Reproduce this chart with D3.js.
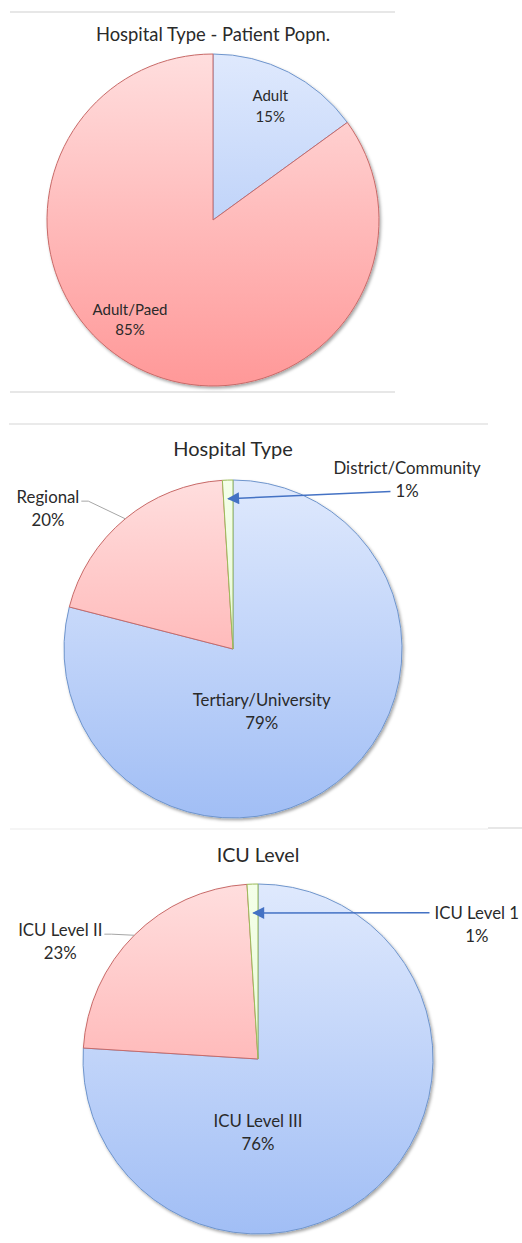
<!DOCTYPE html>
<html>
<head>
<meta charset="utf-8">
<script src="https://cdn.jsdelivr.net/npm/d3@7"></script>
<style>
  body { margin: 0; background: #fff; }
  svg text { font-family: Lato, "Open Sans", sans-serif; fill: #2a2a2a; }
</style>
</head>
<body>
<svg id="chart" width="522" height="1243"></svg>
<script>
// --- data ---
const popnLabels  = ['Adult', 'Adult/Paed']
const popnValues  = [15, 85]
const typeLabels  = ['Tertiary/University', 'Regional', 'District/Community']
const typeValues  = [79, 20, 1]
const icuLabels   = ['ICU Level III', 'ICU Level II', 'ICU Level 1']
const icuValues   = [76, 23, 1]
const titles      = ['Hospital Type - Patient Popn.', 'Hospital Type', 'ICU Level']

// slice styles (blue, red, green) as in the original
const fills = [
  {top: '#dfe9fd', bottom: '#a1bef5', stroke: '#6f95cc'},
  {top: '#ffdede', bottom: '#ff9898', stroke: '#c86a68'},
  {top: '#f4ffe9', bottom: '#e0f5c8', stroke: '#9bbb59'}
]

// layout of each chart block: pie centre, radius, title, label placement
const charts = [
  {labels: popnLabels, values: popnValues, title: titles[0],
   cx: 213, cy: 220, r: 166, titleY: 41, titleSize: 18.4, labelSize: 15,
   rules: [{y: 12, x0: 10, x1: 395, c: '#cfcfcf'}, {y: 392, x0: 10, x1: 395, c: '#cfcfcf'}],
   // label offsets from pie centre, in radius units
   place: [{kind: 'in', dx: 0.345, dy: -0.685}, {kind: 'in', dx: -0.5, dy: 0.6}]},
  {labels: typeLabels, values: typeValues, title: titles[1],
   cx: 233, cy: 649, r: 169, titleY: 456, titleSize: 20, labelSize: 16.8,
   rules: [{y: 424, x0: 9, x1: 488, c: '#d6d6d6'}],
   place: [{kind: 'in', dx: 0.17, dy: 0.37},
           {kind: 'lead', dx: -1.095, dy: -0.83},
           {kind: 'arrow', dx: 1.03, dy: -1.0, from: 1, tip: 0.89}]},
  {labels: icuLabels, values: icuValues, title: titles[2],
   cx: 258, cy: 1059, r: 175, titleY: 862, titleSize: 19.7, labelSize: 16.8,
   rules: [{y: 829, x0: 10, x1: 488, c: '#ececec'}, {y: 828, x0: 488, x1: 522, c: '#d0d0d0'}],
   place: [{kind: 'in', dx: 0, dy: 0.42},
           {kind: 'lead', dx: -1.13, dy: -0.67},
           {kind: 'arrow', dx: 1.25, dy: -0.77, from: 0, tip: 0.835}]}
]

const svg  = d3.select('#chart')
const defs = svg.append('defs')

defs.append('filter').attr('id', 'shadow')
    .attr('x', '-10%').attr('y', '-10%').attr('width', '120%').attr('height', '120%')
  .append('feDropShadow')
    .attr('dx', 1.5).attr('dy', 2).attr('stdDeviation', 1.5)
    .attr('flood-color', '#000').attr('flood-opacity', 0.35)

defs.append('marker').attr('id', 'arrowhead')
    .attr('viewBox', '0 0 10 10').attr('refX', 9).attr('refY', 5)
    .attr('markerWidth', 9.5).attr('markerHeight', 8).attr('orient', 'auto')
    .attr('markerUnits', 'strokeWidth')
  .append('path').attr('d', 'M0,0 L10,5 L0,10 Z').attr('fill', '#4472c4')

const pie = d3.pie().sort(null).value(d => d)

charts.forEach((c, ci) => {
  c.rules.forEach(r => svg.append('line')
    .attr('x1', r.x0).attr('x2', r.x1).attr('y1', r.y).attr('y2', r.y)
    .attr('stroke', r.c).attr('stroke-width', 1.2))

  svg.append('text')
     .attr('x', c.cx).attr('y', c.titleY)
     .attr('text-anchor', 'middle')
     .attr('font-size', c.titleSize)
     .text(c.title)

  // vertical gradients spanning the whole pie (pie group coordinates)
  fills.forEach((f, i) => {
    const gr = defs.append('linearGradient').attr('id', `g${ci}_${i}`)
      .attr('gradientUnits', 'userSpaceOnUse')
      .attr('x1', 0).attr('x2', 0).attr('y1', -c.r).attr('y2', c.r)
    gr.append('stop').attr('offset', 0).attr('stop-color', f.top)
    gr.append('stop').attr('offset', 1).attr('stop-color', f.bottom)
  })

  const arc = d3.arc().innerRadius(0).outerRadius(c.r)
  const g = svg.append('g').attr('transform', `translate(${c.cx},${c.cy})`)
  const arcs = pie(c.values)

  g.append('g').attr('filter', 'url(#shadow)')
   .selectAll('path').data(arcs).join('path')
    .attr('d', arc)
    .attr('fill', (d, i) => `url(#g${ci}_${i})`)
    .attr('stroke', (d, i) => fills[i].stroke)
    .attr('stroke-width', 1)

  const fs = c.labelSize, lh = fs * 1.38
  arcs.forEach((d, i) => {
    const p = c.place[i]
    const lx = p.dx * c.r, ly = p.dy * c.r
    const mid = (d.startAngle + d.endAngle) / 2
    const lineY = [ly - lh / 2, ly + lh / 2]

    const t = g.append('text').attr('text-anchor', 'middle').attr('font-size', fs)
    const spans = [c.labels[i], d.data + '%'].map((s, k) =>
      t.append('tspan').attr('x', lx).attr('y', lineY[k] + fs * 0.35).text(s))

    if (p.kind === 'lead') {
      const w = spans[0].node().getComputedTextLength() / 2
      const ex = Math.sin(mid) * c.r, ey = -Math.cos(mid) * c.r
      g.append('polyline')
       .attr('points', [[lx + w + 2, lineY[0] + 4], [lx + w + 9, lineY[0] + 4], [ex, ey]].join(' '))
       .attr('fill', 'none').attr('stroke', '#a6a6a6').attr('stroke-width', 1)
    }
    if (p.kind === 'arrow') {
      const w = spans[p.from].node().getComputedTextLength() / 2
      const tr = c.r * p.tip
      const tx = Math.sin(mid) * tr, ty = -Math.cos(mid) * tr
      const sx = lx - w - 5, sy = lineY[p.from]
      g.append('line')
       .attr('x1', sx).attr('y1', sy).attr('x2', tx).attr('y2', ty)
       .attr('stroke', '#4472c4').attr('stroke-width', 1.5)
       .attr('marker-end', 'url(#arrowhead)')
    }
  })
})
</script>
</body>
</html>
